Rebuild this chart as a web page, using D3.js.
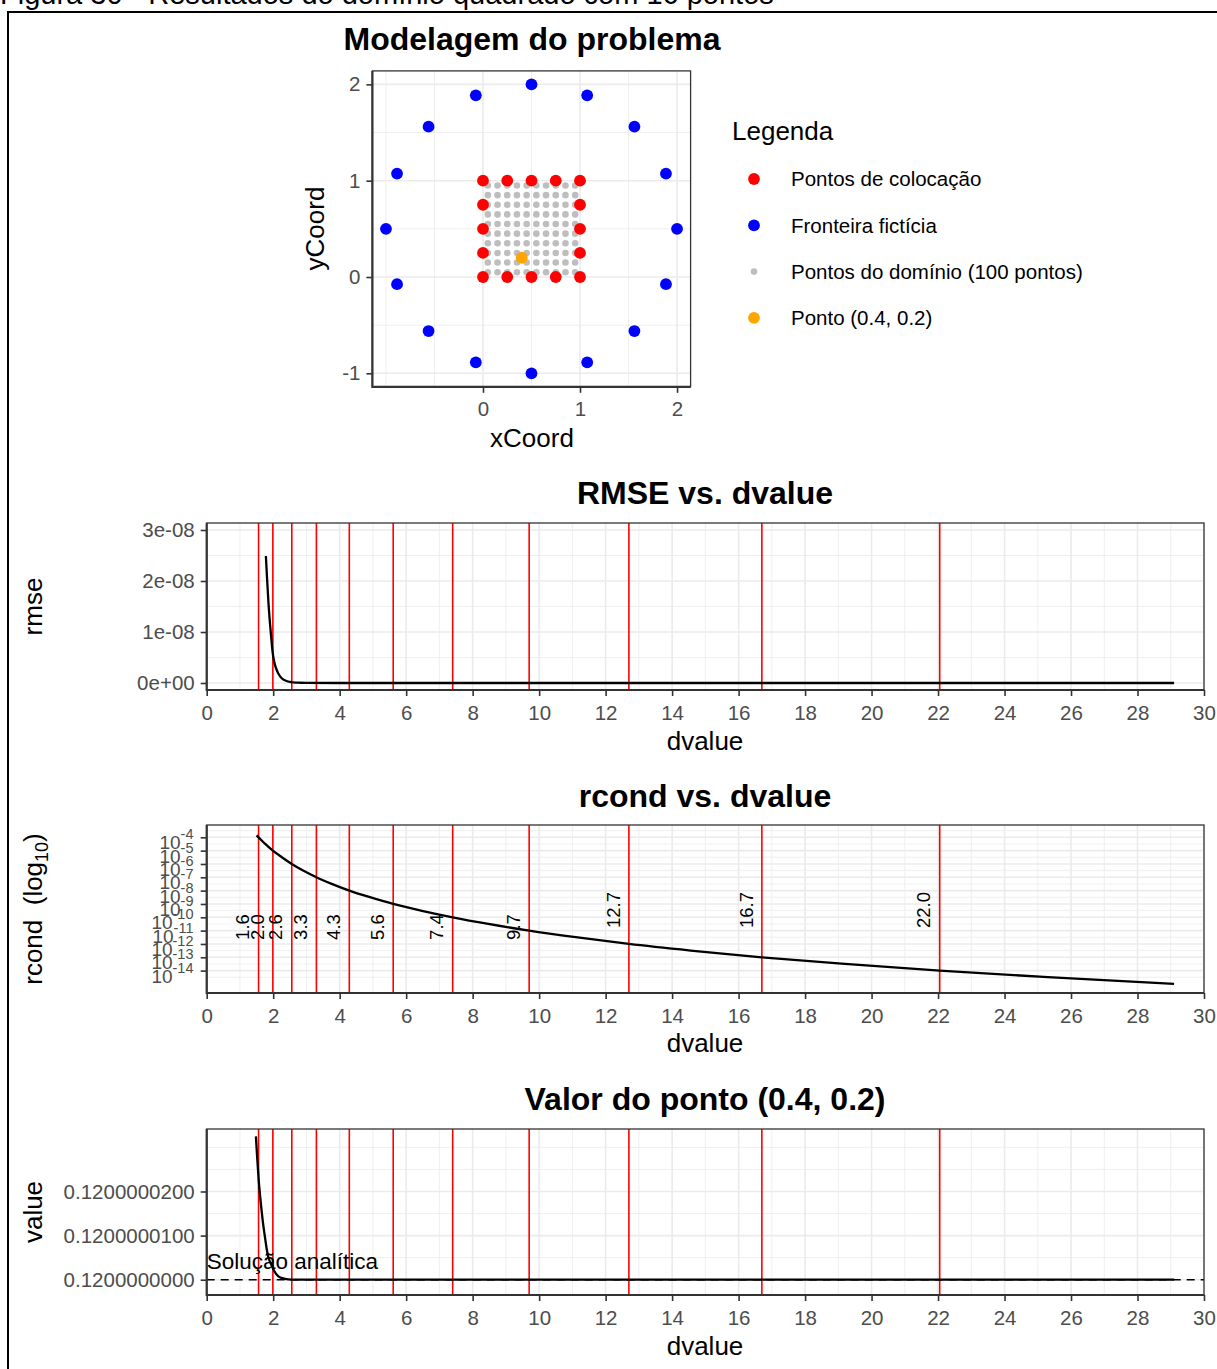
<!DOCTYPE html>
<html>
<head>
<meta charset="utf-8">
<script src="https://cdn.jsdelivr.net/npm/d3@7"></script>
<style>
  body { margin: 0; background: #fff; }
  svg text { font-family: "Liberation Sans", Arial, sans-serif; }
</style>
</head>
<body>
<svg id="chart" width="1217" height="1369"></svg>
<script>
// ---- data ----
// collocation points (square boundary)
const colocX = [0, 0.25, 0.5, 0.75, 1, 0, 0.25, 0.5, 0.75, 1, 0, 0, 0, 1, 1, 1];
const colocY = [0, 0, 0, 0, 0, 1, 1, 1, 1, 1, 0.25, 0.5, 0.75, 0.25, 0.5, 0.75];
// fictitious boundary
const fictX = [2.0, 1.886, 1.561, 1.074, 0.5, -0.074, -0.561, -0.886, -1.0, -0.886, -0.561, -0.074, 0.5, 1.074, 1.561, 1.886];
const fictY = [0.5, 1.074, 1.561, 1.886, 2.0, 1.886, 1.561, 1.074, 0.5, -0.074, -0.561, -0.886, -1.0, -0.886, -0.561, -0.074];
// domain grid (10 x 10)
const gridX = [0.05, 0.15, 0.25, 0.35, 0.45, 0.55, 0.65, 0.75, 0.85, 0.95];
const gridY = [0.05, 0.15, 0.25, 0.35, 0.45, 0.55, 0.65, 0.75, 0.85, 0.95];
const probePoint = [0.4, 0.2];

const legendLabels = ['Pontos de colocação', 'Fronteira fictícia', 'Pontos do domínio (100 pontos)', 'Ponto (0.4, 0.2)'];
const legendColors = ['#ff0000', '#0000ff', '#bebebe', '#ffa500'];

// red marker lines (dvalue where rcond crosses each decade)
const markD = [1.56, 1.99, 2.56, 3.3, 4.29, 5.61, 7.4, 9.7, 12.7, 16.7, 22.05];
const markLabels = ['1.6', '2.0', '2.6', '3.3', '4.3', '5.6', '7.4', '9.7', '12.7', '16.7', '22.0'];

// RMSE vs dvalue
const rmseD = [1.78, 1.82, 1.86, 1.90, 1.94, 1.98, 2.02, 2.08, 2.15, 2.22, 2.30, 2.40, 2.50, 2.60, 2.80, 3.0, 4, 6, 10, 15, 20, 25, 29.1];
const rmseV = [2.49e-8, 2.0e-8, 1.55e-8, 1.2e-8, 0.9e-8, 0.62e-8, 0.45e-8, 0.3e-8, 0.19e-8, 0.12e-8, 0.07e-8, 0.04e-8, 0.022e-8, 0.013e-8, 0.005e-8, 0.002e-8, 0, 0, 0, 0, 0, 0, 0];

// rcond vs dvalue
const rcondD = [1.5, 1.56, 1.76, 1.99, 2.26, 2.56, 2.9, 3.3, 3.76, 4.29, 4.91, 5.61, 6.44, 7.4, 8.47, 9.7, 11.1, 12.7, 14.56, 16.7, 19.2, 22.05, 25.3, 29.1];
const rcondV = [1.4e-4, 1e-4, 3.2e-5, 1e-5, 3.2e-6, 1e-6, 3.2e-7, 1e-7, 3.2e-8, 1e-8, 3.2e-9, 1e-9, 3.2e-10, 1e-10, 3.2e-11, 1e-11, 3.2e-12, 1e-12, 3.2e-13, 1e-13, 3.2e-14, 1e-14, 3.2e-15, 1e-15];

// value at (0.4, 0.2) vs dvalue
const valueD = [1.48, 1.52, 1.56, 1.6, 1.65, 1.7, 1.75, 1.8, 1.85, 1.92, 1.99, 2.07, 2.15, 2.25, 2.36, 2.55, 3, 5, 10, 15, 20, 25, 29.1];
const valueV = [0.1200000325, 0.1200000275, 0.1200000230, 0.1200000195, 0.1200000158, 0.1200000125, 0.1200000098, 0.1200000072, 0.1200000052, 0.1200000038, 0.1200000026, 0.1200000015, 0.1200000008, 0.1200000004, 0.12000000016, 0.12000000003, 0.12, 0.12, 0.12, 0.12, 0.12, 0.12, 0.12];
const analytic = 0.12;

// ticks
const xyTicks = [-1, 0, 1, 2];
const xyTickLabels = ['-1', '0', '1', '2'];
const dTicks = d3.range(0, 31, 2);
const dTickLabels = dTicks.map(String);
const rmseTicks = [0, 1e-8, 2e-8, 3e-8];
const rmseTickLabels = ['0e+00', '1e-08', '2e-08', '3e-08'];
const rcondExp = [-4, -5, -6, -7, -8, -9, -10, -11, -12, -13, -14];
const valueTicks = [0.12, 0.1200000100, 0.1200000200];
const valueTickLabels = ['0.1200000000', '0.1200000100', '0.1200000200'];

// ---- drawing ----
const FONT = '"Liberation Sans", Arial, sans-serif';
const svg = d3.select('#chart');
svg.append('rect').attr('width', 1217).attr('height', 1369).attr('fill', '#fff');

svg.append('text')
  .attr('x', 0).attr('y', 4)
  .attr('font-family', '"Liberation Serif", "Times New Roman", serif')
  .attr('font-size', 29)
  .text('Figura 30 - Resultados do domínio quadrado com 16 pontos');
svg.append('rect')
  .attr('x', 8).attr('y', 12).attr('width', 1300).attr('height', 1400)
  .attr('fill', 'none').attr('stroke', '#000').attr('stroke-width', 2);

function gridLines(g, x, y, xv, yv, w) {
  g.append('g').selectAll('line').data(xv).join('line')
    .attr('x1', d => x(d)).attr('x2', d => x(d))
    .attr('y1', y.range()[0]).attr('y2', y.range()[1])
    .attr('stroke', '#ebebeb').attr('stroke-width', w);
  g.append('g').selectAll('line').data(yv).join('line')
    .attr('y1', d => y(d)).attr('y2', d => y(d))
    .attr('x1', x.range()[0]).attr('x2', x.range()[1])
    .attr('stroke', '#ebebeb').attr('stroke-width', w);
}

function axes(g, x, y, xt, xl, yt, yl) {
  const [x0, x1] = x.range();
  const [y0, y1] = y.range();
  const ax = g.append('g').attr('transform', `translate(0,${y0})`)
    .call(d3.axisBottom(x).tickValues(xt).tickFormat((d, i) => xl[i]).tickSize(6).tickPadding(9));
  const ay = g.append('g').attr('transform', `translate(${x0},0)`)
    .call(d3.axisLeft(y).tickValues(yt).tickFormat((d, i) => yl[i]).tickSize(6).tickPadding(6));
  for (const a of [ax, ay]) {
    a.select('.domain').remove();
    a.selectAll('.tick line').attr('stroke', '#333').attr('stroke-width', 1.6);
    a.selectAll('.tick text').attr('fill', '#4d4d4d').attr('font-size', 20.5).attr('font-family', FONT);
  }
  g.append('rect').attr('x', x0).attr('y', y1).attr('width', x1 - x0).attr('height', y0 - y1)
    .attr('fill', 'none').attr('stroke', '#333').attr('stroke-width', 1.3);
  g.append('path').attr('d', `M${x0},${y1}V${y0}H${x1}`)
    .attr('fill', 'none').attr('stroke', '#333').attr('stroke-width', 2.2);
}

function titles(title, tx, ty, xTitle, xty, yTitle, ytx, yty) {
  svg.append('text').attr('x', tx).attr('y', ty).attr('dy', '0.36em')
    .attr('text-anchor', 'middle').attr('font-size', 32).attr('font-weight', 'bold').text(title);
  svg.append('text').attr('x', tx).attr('y', xty).attr('dy', '0.36em')
    .attr('text-anchor', 'middle').attr('font-size', 26).text(xTitle);
  if (yTitle) {
    svg.append('text').attr('transform', `translate(${ytx},${yty}) rotate(-90)`).attr('dy', '0.3em')
      .attr('text-anchor', 'middle').attr('font-size', 26).text(yTitle);
  }
}

// ---- panel 1: problem model ----
{
  const x = d3.scaleLinear().domain([-1.14, 2.14]).range([372.4, 690.6]);
  const y = d3.scaleLinear().domain([-1.14, 2.14]).range([386.8, 70.9]);
  const g = svg.append('g');
  gridLines(g, x, y, [-1, -0.5, 0.5, 1.5], [-0.5, 0.5, 1.5], 0.8);
  gridLines(g, x, y, [0, 1, 2], [-1, 0, 1, 2], 1.6);

  const domain = d3.cross(gridX, gridY);
  g.append('g').selectAll('circle').data(domain).join('circle')
    .attr('cx', d => x(d[0])).attr('cy', d => y(d[1])).attr('r', 3.3).attr('fill', legendColors[2]);
  g.append('g').selectAll('circle').data(colocX).join('circle')
    .attr('cx', d => x(d)).attr('cy', (d, i) => y(colocY[i])).attr('r', 5.9).attr('fill', legendColors[0]);
  g.append('g').selectAll('circle').data(fictX).join('circle')
    .attr('cx', d => x(d)).attr('cy', (d, i) => y(fictY[i])).attr('r', 5.9).attr('fill', legendColors[1]);
  g.append('circle').attr('cx', x(probePoint[0])).attr('cy', y(probePoint[1])).attr('r', 5.9).attr('fill', legendColors[3]);

  axes(g, x, y, [0, 1, 2], ['0', '1', '2'], xyTicks, xyTickLabels);
  titles('Modelagem do problema', 532, 38, 'xCoord', 438, 'yCoord', 316, 228.5);

  // legend
  const lg = svg.append('g');
  lg.append('text').attr('x', 732).attr('y', 131).attr('dy', '0.36em').attr('font-size', 26).text('Legenda');
  legendLabels.forEach((lab, i) => {
    const cy = 179 + i * 46.3;
    lg.append('circle').attr('cx', 754).attr('cy', cy).attr('r', i === 2 ? 3.3 : 5.9).attr('fill', legendColors[i]);
    lg.append('text').attr('x', 791).attr('y', cy).attr('dy', '0.36em').attr('font-size', 20.5).text(lab);
  });
}

const xD = () => d3.scaleLinear().domain([0, 30]).range([206.7, 1204]);
const dMinor = d3.range(1, 30, 2);

function markLines(g, x, y) {
  g.append('g').selectAll('line').data(markD).join('line')
    .attr('x1', d => x(d)).attr('x2', d => x(d))
    .attr('y1', y.range()[0]).attr('y2', y.range()[1])
    .attr('stroke', '#ff0000').attr('stroke-width', 1.6);
}

function curve(g, x, y, xs, ys) {
  g.append('path')
    .datum(xs.map((d, i) => [d, ys[i]]))
    .attr('d', d3.line().curve(d3.curveMonotoneX).x(d => x(d[0])).y(d => y(d[1])))
    .attr('fill', 'none').attr('stroke', '#000').attr('stroke-width', 2.3);
}

// ---- panel 2: RMSE ----
{
  const x = xD();
  const y = d3.scaleLinear().domain([-0.137e-8, 3.137e-8]).range([690, 523]);
  const g = svg.append('g');
  gridLines(g, x, y, dMinor, [0.5e-8, 1.5e-8, 2.5e-8], 0.8);
  gridLines(g, x, y, dTicks, rmseTicks, 1.6);
  markLines(g, x, y);
  curve(g, x, y, rmseD, rmseV);
  axes(g, x, y, dTicks, dTickLabels, rmseTicks, rmseTickLabels);
  titles('RMSE vs. dvalue', 705, 492, 'dvalue', 741, 'rmse', 34, 606.5);
}

// ---- panel 3: rcond (log10) ----
{
  const x = xD();
  const y = d3.scaleLog().domain([10 ** -15.68, 10 ** -3.077]).range([993, 825]);
  const g = svg.append('g');
  const minors = d3.range(-3.5, -15, -1).map(e => 10 ** e);
  const majors = rcondExp.map(e => 10 ** e);
  gridLines(g, x, y, dMinor, minors, 0.8);
  gridLines(g, x, y, dTicks, majors, 1.6);
  markLines(g, x, y);
  curve(g, x, y, rcondD, rcondV);
  axes(g, x, y, dTicks, dTickLabels, majors, majors.map(() => ''));

  // superscript tick labels 10^k
  const lab = svg.append('g').attr('fill', '#4d4d4d');
  rcondExp.forEach(e => {
    const t = lab.append('text').attr('x', 193.5).attr('y', y(10 ** e) + 12).attr('text-anchor', 'end');
    t.append('tspan').attr('font-size', 19).text('10');
    t.append('tspan').attr('font-size', 14.5).attr('dy', -10).text(String(e));
  });

  // rotated dvalue labels at the red lines
  svg.append('g').selectAll('text').data(markD).join('text')
    .attr('transform', d => `translate(${x(d) - 16},${y(10 ** (d < 10 ? -10.73 : -9.45))}) rotate(-90)`)
    .attr('text-anchor', 'middle').attr('dy', '0.36em').attr('font-size', 18.5)
    .text((d, i) => markLabels[i]);

  titles('rcond vs. dvalue', 705, 795, 'dvalue', 1043, null);
  const yt = svg.append('text').attr('transform', 'translate(34,909) rotate(-90)').attr('dy', '0.3em')
    .attr('text-anchor', 'middle').attr('font-size', 26);
  yt.append('tspan').text('rcond\u00a0\u00a0(log');
  yt.append('tspan').attr('font-size', 18).attr('dy', 6).text('10');
  yt.append('tspan').attr('dy', -6).text(')');
}

// ---- panel 4: value at (0.4, 0.2) ----
{
  const x = xD();
  const y = d3.scaleLinear().domain([0.12 - 0.347e-8, 0.12 + 3.417e-8]).range([1295, 1129]);
  const g = svg.append('g');
  gridLines(g, x, y, dMinor, [0.12 + 0.5e-8, 0.12 + 1.5e-8, 0.12 + 2.5e-8, 0.12 + 3e-8], 0.8);
  gridLines(g, x, y, dTicks, valueTicks, 1.6);
  g.append('line')
    .attr('x1', x(0)).attr('x2', x(30)).attr('y1', y(analytic)).attr('y2', y(analytic))
    .attr('stroke', '#000').attr('stroke-width', 1.6).attr('stroke-dasharray', '8,6');
  markLines(g, x, y);
  curve(g, x, y, valueD, valueV);
  g.append('text').attr('x', x(0)).attr('y', y(analytic) - 10.5)
    .attr('font-size', 22.5).text('Solução analítica');
  axes(g, x, y, dTicks, dTickLabels, valueTicks, valueTickLabels);
  titles('Valor do ponto (0.4, 0.2)', 705, 1098, 'dvalue', 1346, 'value', 34, 1212);
}
</script>
</body>
</html>
